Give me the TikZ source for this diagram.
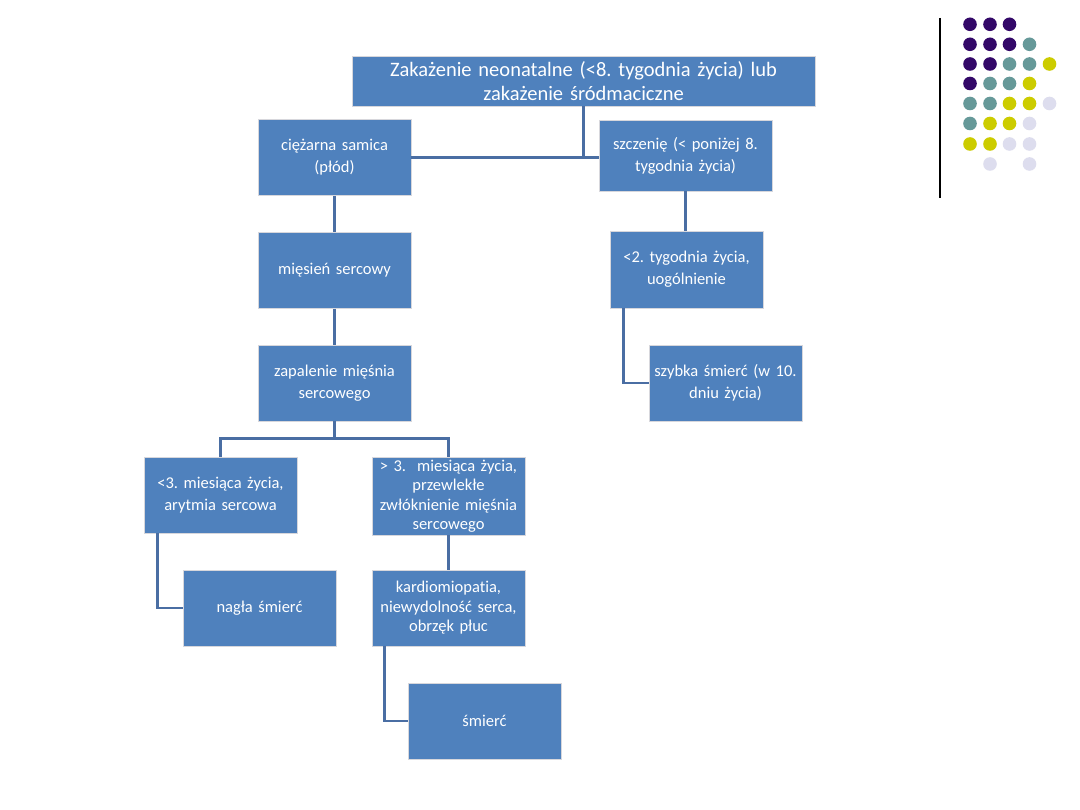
\documentclass[tikz,border=0pt]{standalone}
\usepackage{fontspec}
\setmainfont[Ligatures=NoCommon]{Carlito}
\frenchspacing
\definecolor{boxblue}{RGB}{79,129,189}
\definecolor{linkblue}{RGB}{74,110,163}
\definecolor{boxedge}{RGB}{215,215,220}
\definecolor{dotP}{RGB}{51,8,104}
\definecolor{dotT}{RGB}{102,153,153}
\definecolor{dotY}{RGB}{204,204,0}
\definecolor{dotL}{RGB}{221,221,238}
\begin{document}
\begin{tikzpicture}[x=1pt,y=-1pt,
  box/.style={fill=boxblue,draw=boxedge,line width=0.6pt,text=white,align=center,
    minimum width=153pt,minimum height=76pt,inner sep=0pt,text width=150pt,
    font=\fontsize{16.5}{22}\selectfont},
  tightbox/.style={box,font=\fontsize{16.5}{19.5}\selectfont},
  topbox/.style={fill=boxblue,draw=boxedge,line width=0.6pt,text=white,align=center,
    minimum width=463pt,minimum height=50pt,inner sep=0pt,text width=460pt,
    font=\fontsize{20.5}{24}\selectfont},
  link/.style={draw=linkblue,line width=2.6pt},
  dot/.style={radius=6.8pt}]
\useasboundingbox (0,0) rectangle (1080,810);
\fill[white] (0,0) rectangle (1080,810);

\node[topbox] (top) at (583.5,81) {Zakażenie neonatalne (<8. tygodnia życia) lub\\zakażenie śródmaciczne};
\node[box] (ciez) at (334.5,157.5) {ciężarna samica\\(płód)};
\node[box,minimum width=173pt,minimum height=71pt] (szcz) at (685.5,155.5) {szczenię (< poniżej 8.\\tygodnia życia)};
\node[box] (mies) at (334.5,270.5) {mięsień sercowy};
\node[box] (zap) at (334.5,383) {zapalenie mięśnia\\sercowego};
\node[box] (lt) at (220.5,495) {<3. miesiąca życia,\\arytmia sercowa};
\node[tightbox,minimum height=78pt] (gt) at (448.5,496) {> 3.\ \ miesiąca życia,\\przewlekłe\\zwłóknienie mięśnia\\sercowego};
\node[box] (nag) at (259.5,608) {nagła śmierć};
\node[tightbox] (kard) at (448.5,608) {kardiomiopatia,\\niewydolność serca,\\obrzęk płuc};
\node[box] (smi) at (484.5,721) {śmierć};
\node[box,minimum height=77pt] (two) at (686.5,269.5) {<2. tygodnia życia,\\uogólnienie};
\node[box] (szyb) at (725.5,383) {szybka śmierć (w 10.\\dniu życia)};

% connectors
\draw[link] (ciez.east) -- (szcz.west |- ciez.east);
\draw[link] (top.south) -- (top.south |- ciez.east);
\draw[link] (ciez.south) -- (mies.north);
\draw[link] (mies.south) -- (zap.north);
\coordinate (zj) at ([yshift=-17pt]zap.south);
\draw[link] (zap.south) -- (zj);
\draw[link] (lt.north) |- (zj) -| (gt.north);
\draw[link] ([xshift=14pt]lt.south west) |- (nag.west);
\draw[link] (gt.south) -- (kard.north);
\draw[link] ([xshift=13pt]kard.south west) |- (smi.west);
\draw[link] (szcz.south) -- (szcz.south |- two.north);
\draw[link] ([xshift=14pt]two.south west) |- (szyb.west);

% decoration
\draw[black,line width=1.2pt] (940,18) -- (940,198);
\foreach \c/\x/\y in {
 P/970/24.3, P/990/24.3, P/1009.5/24.3,
 P/970/44.3, P/990/44.3, P/1009.5/44.3, T/1029.5/44.3,
 P/970/64, P/990/64, T/1009.5/64, T/1029.5/64, Y/1049.5/64,
 P/970/83.5, T/990/83.5, T/1009.5/83.5, Y/1029.5/83.5,
 T/970/103.5, T/990/103.5, Y/1009.5/103.5, Y/1029.5/103.5, L/1049.5/103.5,
 T/970/123.5, Y/990/123.5, Y/1009.5/123.5, L/1029.5/123.5,
 Y/970/144, Y/990/144, L/1009.5/144, L/1029.5/144,
 L/990/164, L/1029.5/164}
 \fill[dot\c] (\x,\y) circle[dot];
\end{tikzpicture}
\end{document}
